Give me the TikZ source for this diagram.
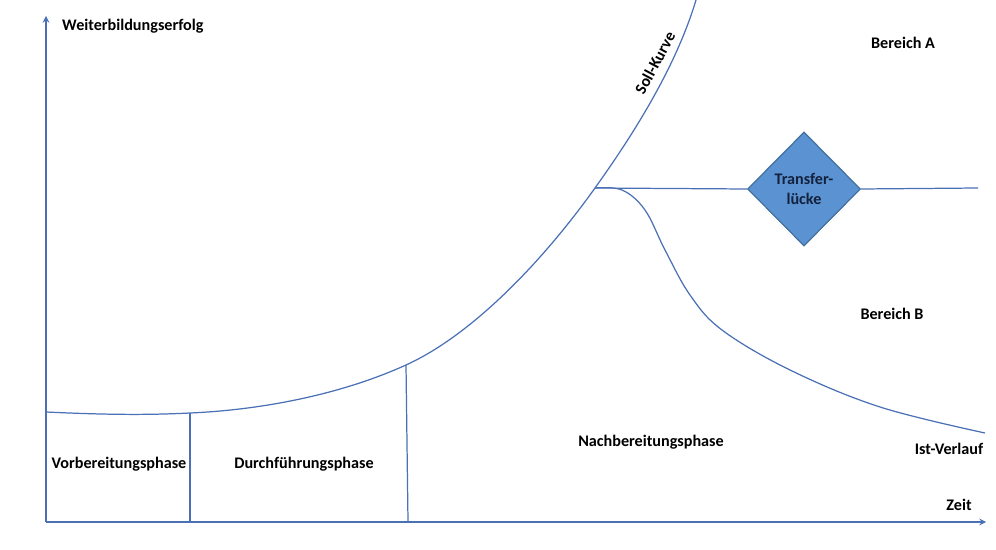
\documentclass[tikz,border=0pt]{standalone}
\usepackage{fontspec}
\setmainfont{Carlito}
\usetikzlibrary{shapes.geometric}
\definecolor{linie}{HTML}{4A70B5}
\definecolor{raute}{HTML}{5B93D2}
\definecolor{rand}{HTML}{41719C}
\definecolor{schrift}{HTML}{14213D}
\tikzset{
  txt/.style={font=\fontsize{9.2}{11}\selectfont\bfseries},
  kurve/.style={linie,line width=0.7pt},
}
\begin{document}
\begin{tikzpicture}[x=0.02cm,y=-0.02cm,>=stealth]
\useasboundingbox (0,0) rectangle (996,550);
% Achsen
\coordinate (O) at (46,522);
\coordinate (ytip) at (46,16);
\coordinate (xtip) at (986,522);
\draw[kurve,->] (O)--(ytip);
\draw[kurve,->] (O)--(xtip);
\node (yl) at (56,26) [txt,anchor=west] {Weiterbildungserfolg};
\node (xl) at (959,505) [txt] {Zeit};
% Soll-Kurve
\coordinate (start) at (46,412);
\coordinate (p1) at (190,413);
\coordinate (p2) at (406,365);
\coordinate (knick) at (595,188);
\coordinate (oben) at (696,0);
\draw[kurve] (start) .. controls (110,415) and (150,415) .. (p1)
  .. controls (260,410) and (340,395) .. (p2)
  .. controls (470,336) and (540,265) .. (knick)
  .. controls (630,139) and (675,70) .. (oben);
\node (soll) at (655,63) [txt,rotate=62] {Soll-Kurve};
% Phasen
\draw[kurve] (start)--(O);
\draw[kurve] (p1)--(190,522) coordinate (q1);
\draw[kurve] (p2)--(408,522) coordinate (q2);
\node (vor) at (119,464) [txt] {Vorbereitungsphase};
\node (durch) at (304,464) [txt] {Durchführungsphase};
\node (nach) at (651,442) [txt] {Nachbereitungsphase};
% Transferluecke
\node (tl) at (804,189) [diamond,draw=rand,fill=raute,line width=0.7pt,minimum width=2.26cm,minimum height=2.28cm,inner sep=0pt,align=center,txt,text=schrift] {Transfer-\\lücke};
\coordinate (ende) at (978,188);
\draw[kurve] (knick)--(tl.west);
\draw[kurve] (tl.east)--(ende);
% Ist-Verlauf
\draw[kurve] plot[smooth,tension=0.6] coordinates{(595,188)(622,190)(645,210)(665,250)(690,295)(722,330)(790,370)(880,407)(985,433)};
\node (ist) at (949,449) [txt] {Ist-Verlauf};
\node (ba) at (903,43) [txt] {Bereich A};
\node (bb) at (892,314) [txt] {Bereich B};
\end{tikzpicture}
\end{document}
